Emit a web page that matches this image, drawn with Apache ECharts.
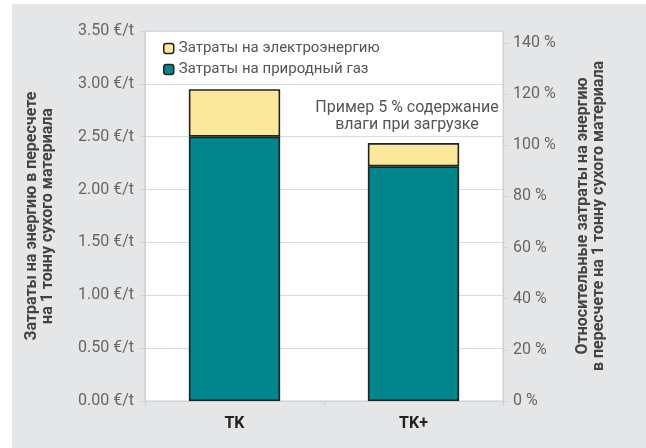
<!DOCTYPE html>
<html>
<head>
<meta charset="utf-8">
<script src="https://cdn.jsdelivr.net/npm/echarts@6/dist/echarts.min.js"></script>
<style>
  html, body { margin: 0; padding: 0; background: #ffffff; }
  #frame { position: absolute; left: 12px; top: 4px; width: 634px; height: 444px; background: #e5e6e8; }
  #chart { position: absolute; left: 0; top: 0; width: 646px; height: 448px; }
</style>
</head>
<body>
<div id="frame"></div>
<div id="chart"></div>
<script>
// Energy cost per tonne of dry material (€/t)
const categories = ['TK', 'TK+'];
const gasCost = [2.50, 2.22];          // natural gas share
const electricityCost = [0.45, 0.22];  // electricity share on top
const reference100 = 2.42;             // €/t taken as 100 % on the right scale
const leftTicks = [0, 0.5, 1, 1.5, 2, 2.5, 3, 3.5];
const rightTickStep = 20;

const font = 'Roboto, "Noto Sans", sans-serif';
const chart = echarts.init(document.getElementById('chart'), null, { renderer: 'canvas' });

chart.setOption({
  backgroundColor: 'transparent',
  animation: false,
  textStyle: { fontFamily: font },
  grid: {
    left: 145, right: 143, top: 31, bottom: 47,
    show: true, backgroundColor: '#ffffff', borderColor: '#cfd0d2', borderWidth: 1
  },
  legend: {
    orient: 'vertical',
    left: 158, top: 36,
    itemWidth: 10, itemHeight: 10, itemGap: 6,
    data: ['Затраты на электроэнергию', 'Затраты на природный газ'],
    textStyle: { color: '#555', fontSize: 15, fontFamily: font },
    itemStyle: { borderColor: '#222', borderWidth: 1.5 }
  },
  xAxis: {
    type: 'category',
    data: categories,
    axisLine: { lineStyle: { color: '#cfd0d2' } },
    axisTick: { show: true, length: 5, lineStyle: { color: '#cfd0d2' } },
    axisLabel: { color: '#222', fontWeight: 'bold', fontSize: 16, margin: 15 }
  },
  yAxis: [
    {
      type: 'value',
      min: leftTicks[0], max: leftTicks[leftTicks.length - 1], interval: 0.5,
      name: 'Затраты на энергию в пересчете\nна 1 тонну сухого материала',
      nameLocation: 'middle', nameRotate: 90, nameGap: 89,
      nameTextStyle: { color: '#444', fontWeight: 'bold', fontSize: 16, lineHeight: 16 },
      axisLine: { show: true, lineStyle: { color: '#cfd0d2' } },
      axisTick: { show: true, length: 5, lineStyle: { color: '#cfd0d2' } },
      splitLine: { show: true, lineStyle: { color: '#dadbdd' } },
      axisLabel: {
        color: '#666', fontSize: 16, margin: 11,
        formatter: v => v.toFixed(2) + ' €/t'
      }
    },
    {
      type: 'value',
      min: 0, max: leftTicks[leftTicks.length - 1] / reference100 * 100, interval: rightTickStep,
      name: 'Относительные затраты на энергию\nв пересчете на 1 тонну сухого материала',
      nameLocation: 'middle', nameRotate: 90, nameGap: 72,
      nameTextStyle: { color: '#444', fontWeight: 'bold', fontSize: 16, lineHeight: 16 },
      axisLine: { show: true, lineStyle: { color: '#cfd0d2' } },
      axisTick: { show: true, length: 5, lineStyle: { color: '#cfd0d2' } },
      splitLine: { show: false },
      axisLabel: {
        color: '#666', fontSize: 16, margin: 10, showMaxLabel: false,
        formatter: v => (Math.abs(v % rightTickStep) < 1e-6 ? Math.round(v) + ' %' : '')
      }
    }
  ],
  graphic: [{
    type: 'text',
    x: 407, y: 99,
    style: {
      text: 'Пример 5 % содержание\nвлаги при загрузке',
      fill: '#555', font: '16px ' + font, align: 'center', verticalAlign: 'top', lineHeight: 17
    }
  }],
  series: [
    {
      name: 'Затраты на природный газ',
      type: 'bar', stack: 'cost', barWidth: '51%',
      data: gasCost,
      itemStyle: { color: '#00868b', borderColor: '#222', borderWidth: 1.6 }
    },
    {
      name: 'Затраты на электроэнергию',
      type: 'bar', stack: 'cost', barWidth: '51%',
      data: electricityCost,
      itemStyle: { color: '#fbe89a', borderColor: '#222', borderWidth: 1.6 }
    }
  ]
});
</script>
</body>
</html>
